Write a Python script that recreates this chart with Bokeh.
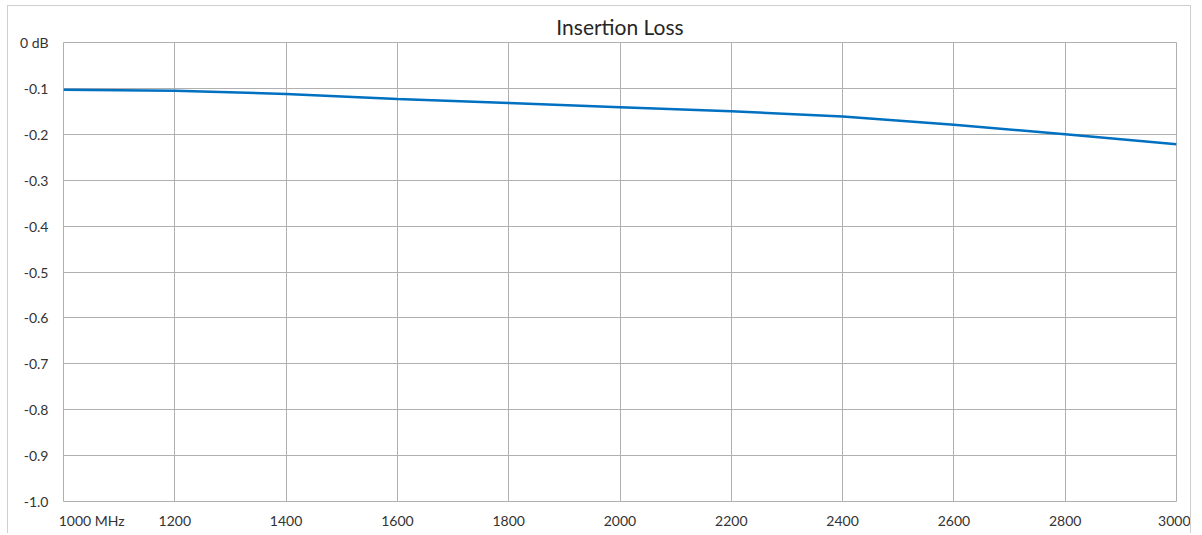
from bokeh.plotting import figure
from bokeh.models import Range1d, FixedTicker
from bokeh.embed import file_html
from bokeh.resources import INLINE

# Data
freq_mhz = [1000, 1200, 1400, 1600, 1800, 2000, 2200, 2400, 2600, 2800, 3000]
loss_db = [-0.103, -0.105, -0.112, -0.123, -0.132, -0.141, -0.150, -0.161, -0.179, -0.200, -0.2215]

x_ticks = [1000, 1200, 1400, 1600, 1800, 2000, 2200, 2400, 2600, 2800, 3000]
x_labels = ["\u00a0" * 14 + "1000 MHz", "1200", "1400", "1600", "1800", "2000", "2200", "2400", "2600", "2800", "3000"]
y_ticks = [0.0, -0.1, -0.2, -0.3, -0.4, -0.5, -0.6, -0.7, -0.8, -0.9, -1.0]
y_labels = ["0 dB", "-0.1", "-0.2", "-0.3", "-0.4", "-0.5", "-0.6", "-0.7", "-0.8", "-0.9", "-1.0"]

FONT = "Lato"
GRID = "#b0b0b0"
TEXT = "#333333"

p = figure(
    width=1184, height=528,
    x_range=Range1d(1000, 3000), y_range=Range1d(-1.0, 0.0),
    output_backend="svg", toolbar_location=None,
    min_border_left=55, min_border_right=16, min_border_top=36, min_border_bottom=33,
    title="Insertion Loss",
)
p.styles = {"border-top": "1px solid #cfcfcf", "border-left": "1px solid #cfcfcf",
            "border-right": "1px solid #cfcfcf", "margin-left": "7px", "margin-top": "5px"}

p.title.align = "center"
p.title.text_font = FONT
p.title.text_font_size = "21px"
p.title.text_font_style = "normal"
p.title.text_color = "#262626"
p.title.standoff = 7

p.outline_line_color = GRID
p.outline_line_width = 1

for ax in (p.xaxis[0], p.yaxis[0]):
    ax.axis_line_color = None
    ax.major_tick_line_color = None
    ax.minor_tick_line_color = None
    ax.major_tick_out = 0
    ax.major_tick_in = 0
    ax.minor_tick_out = 0
    ax.major_label_text_font = FONT
    ax.major_label_text_font_size = "14px"
    ax.major_label_text_color = TEXT

p.xaxis.ticker = FixedTicker(ticks=x_ticks)
p.xaxis.major_label_overrides = dict(zip(x_ticks, x_labels))
p.xaxis.major_label_standoff = 10
p.yaxis.ticker = FixedTicker(ticks=y_ticks)
p.yaxis.major_label_overrides = dict(zip(y_ticks, y_labels))
p.yaxis.major_label_standoff = 15

p.xgrid.grid_line_color = GRID
p.ygrid.grid_line_color = GRID
p.xgrid.grid_line_width = 1
p.ygrid.grid_line_width = 1

p.line(freq_mhz, loss_db, line_color="#0070c0", line_width=2.5)

open("out.html", "w").write(file_html(p, INLINE))
